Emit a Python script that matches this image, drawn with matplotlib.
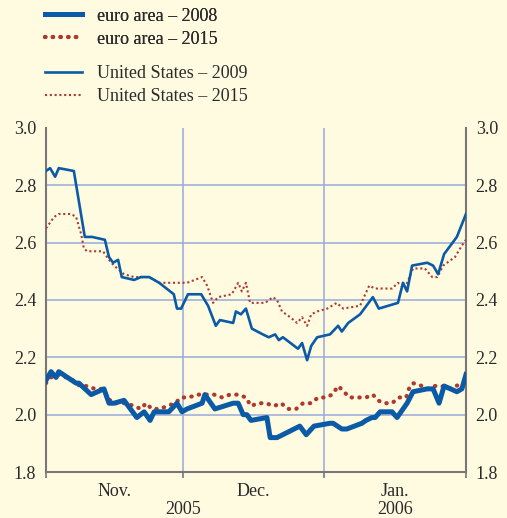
import numpy as np
import matplotlib.pyplot as plt
from matplotlib.lines import Line2D
import matplotlib.transforms as mtransforms

# x = days since 1 Nov 2005
us09_x = [0, 0.9, 2.0, 2.8, 6.1, 8.5, 10.1, 12.9, 13.8, 14.7, 15.8, 16.6, 19.3, 20.8, 22.6, 24.8,
          27.2, 28.0, 28.7, 29.6, 31.1, 34.0, 35.5, 37.2, 38.1, 41.0, 41.6, 42.7, 43.8, 45.1, 47.5,
          48.8, 50.2, 51.0, 51.9, 55.2, 56.1, 57.2, 58.1, 59.4, 62.2, 64.0, 64.8, 66.2, 68.8, 71.6,
          72.9, 77.1, 78.2, 79.1, 80.2, 83.5, 84.8, 85.9, 87.2, 90.0, 92.0]
us09_y = [2.85, 2.86, 2.83, 2.86, 2.85, 2.62, 2.62, 2.61, 2.55, 2.53, 2.54, 2.48, 2.47, 2.48, 2.48, 2.46,
          2.43, 2.42, 2.37, 2.37, 2.42, 2.42, 2.38, 2.31, 2.33, 2.32, 2.36, 2.35, 2.37, 2.30, 2.28,
          2.27, 2.28, 2.26, 2.27, 2.23, 2.25, 2.19, 2.24, 2.27, 2.28, 2.31, 2.29, 2.32, 2.35, 2.41,
          2.37, 2.39, 2.46, 2.43, 2.52, 2.53, 2.52, 2.49, 2.56, 2.62, 2.70]

us15_x = [0, 1.8, 2.8, 5.5, 6.6, 7.7, 8.3, 9.0, 12.5, 13.8, 14.9, 17.1, 19.3, 21.0, 22.6, 24.8, 26.3,
          29.6, 30.9, 34.2, 35.3, 36.6, 37.7, 40.7, 42.1, 42.9, 43.8, 44.7, 48.0, 49.7, 50.6, 51.7,
          53.5, 55.0, 56.1, 57.2, 58.1, 59.4, 61.6, 63.7, 65.1, 68.8, 70.8, 72.1, 75.8, 77.1, 78.6,
          80.4, 83.0, 84.6, 85.7, 87.0, 89.6, 91.1, 92.0]
us15_y = [2.65, 2.69, 2.70, 2.70, 2.69, 2.63, 2.58, 2.57, 2.57, 2.54, 2.52, 2.49, 2.48, 2.48, 2.48, 2.46, 2.46,
          2.46, 2.46, 2.48, 2.45, 2.39, 2.41, 2.42, 2.46, 2.43, 2.46, 2.39, 2.39, 2.41, 2.40, 2.36,
          2.34, 2.32, 2.34, 2.31, 2.35, 2.36, 2.37, 2.39, 2.37, 2.38, 2.45, 2.44, 2.44, 2.46, 2.44,
          2.51, 2.51, 2.48, 2.48, 2.52, 2.55, 2.59, 2.61]

ea08_x = [0, 1.1, 2.2, 2.8, 6.6, 7.2, 9.9, 12.7, 13.8, 14.9, 17.1, 19.9, 21.5, 22.8, 23.7, 26.9, 28.7,
          29.8, 30.9, 34.2, 34.8, 37.0, 41.0, 42.1, 43.2, 44.0, 44.9, 48.4, 49.1, 50.6, 55.6, 57.0,
          58.7, 62.2, 62.9, 64.8, 65.9, 69.2, 70.1, 71.4, 72.1, 73.2, 75.8, 76.9, 79.1, 80.4, 83.5,
          84.8, 86.1, 87.2, 90.0, 91.1, 92.0]
ea08_y = [2.12, 2.15, 2.13, 2.15, 2.11, 2.11, 2.07, 2.09, 2.04, 2.04, 2.05, 1.99, 2.01, 1.98, 2.01, 2.01, 2.04,
          2.01, 2.02, 2.04, 2.07, 2.02, 2.04, 2.04, 2.00, 2.00, 1.98, 1.99, 1.92, 1.92, 1.96, 1.93,
          1.96, 1.97, 1.97, 1.95, 1.95, 1.97, 1.98, 1.99, 1.99, 2.01, 2.01, 1.99, 2.04, 2.08, 2.09,
          2.09, 2.04, 2.10, 2.08, 2.09, 2.14]

ea15_x = [0, 1.1, 2.4, 4.4, 5.9, 7.4, 9.0, 10.7, 12.5, 13.6, 14.5, 15.6, 17.5, 19.3, 20.8, 21.9, 23.2,
          25.0, 26.5, 28.3, 29.6, 31.3, 33.1, 35.0, 36.8, 38.6, 40.3, 42.1, 43.8, 44.9, 46.4, 48.2,
          49.9, 51.5, 53.0, 54.8, 56.3, 58.1, 59.6, 61.3, 62.7, 64.0, 65.3, 66.4, 68.3, 70.1, 71.6,
          72.7, 74.0, 75.8, 77.3, 78.9, 79.5, 80.4, 82.4, 83.7, 85.0, 86.7, 88.1, 89.8, 91.4, 92.0]
ea15_y = [2.11, 2.13, 2.14, 2.13, 2.12, 2.10, 2.10, 2.09, 2.09, 2.06, 2.04, 2.04, 2.04, 2.03, 2.02, 2.04, 2.02,
          2.02, 2.03, 2.04, 2.06, 2.06, 2.07, 2.07, 2.07, 2.06, 2.07, 2.07, 2.06, 2.03, 2.04, 2.04,
          2.03, 2.04, 2.02, 2.02, 2.04, 2.04, 2.06, 2.06, 2.07, 2.10, 2.08, 2.06, 2.06, 2.06, 2.07,
          2.05, 2.04, 2.04, 2.06, 2.06, 2.09, 2.11, 2.10, 2.09, 2.10, 2.10, 2.09, 2.10, 2.11, 2.12]

month_edges = [0, 30, 61, 92]
month_labels = ["Nov.", "Dec.", "Jan."]
year_labels = [(30, "2005"), (76.5, "2006")]
yticks = [1.8, 2.0, 2.2, 2.4, 2.6, 2.8, 3.0]

bg = "#fefbe1"
blue = "#0a5aa6"
red = "#b0392f"
grid_c = "#97abd8"
txt_c = "#2a2a2a"

plt.rcParams["font.family"] = ["Liberation Serif", "DejaVu Serif"]

fig = plt.figure(figsize=(5.07, 5.18), dpi=100, facecolor=bg)
ax = fig.add_axes([0.0907, 0.0888, 0.8284, 0.6641], facecolor=bg)

for v in [2.0, 2.2, 2.4, 2.6, 2.8]:
    ax.axhline(v, color=grid_c, lw=1.1, zorder=1)
for m in month_edges[1:-1]:
    ax.axvline(m, color=grid_c, lw=1.1, zorder=1)

dots_big = dict(color=red, lw=3.0, dashes=(0.1, 1.75), dash_capstyle="round")
dots_small = dict(color=red, lw=1.5, dashes=(1, 1.3))

ax.plot(us15_x, us15_y, zorder=3, **dots_small)
ax.plot(us09_x, us09_y, color=blue, lw=1.9, zorder=4)
ax.plot(ea15_x, ea15_y, zorder=3, **dots_big)
ax.plot(ea08_x, ea08_y, color=blue, lw=3.6, zorder=4)

ax.set_xlim(0, 92)
ax.set_ylim(1.8, 3.0)

ax.spines["top"].set_visible(False)
for s in ["left", "right", "bottom"]:
    ax.spines[s].set_color("#777777")
    ax.spines[s].set_linewidth(1.5)

ax.set_yticks(yticks)
ax.set_yticklabels(["%.1f" % v for v in yticks])
ax.tick_params(axis="y", length=0, labelsize=13, colors=txt_c, pad=7,
               left=True, right=True, labelleft=True, labelright=True)

ax.set_xticks(month_edges)
ax.set_xticklabels([])
ax.set_xticks([(month_edges[i] + month_edges[i + 1]) / 2 for i in range(3)], minor=True)
ax.set_xticklabels(month_labels, minor=True)
ax.tick_params(axis="x", which="major", length=4, color="#777777", width=1.2)
ax.tick_params(axis="x", which="minor", length=0, labelsize=13, colors=txt_c, pad=8)

trans = mtransforms.blended_transform_factory(ax.transData, fig.transFigure)
for x, t in year_labels:
    fig.text(x, 0.0, t, transform=trans, ha="center", va="bottom", fontsize=13, color=txt_c)

h1 = [Line2D([], [], color=blue, lw=3.6), Line2D([], [], **dots_big)]
h2 = [Line2D([], [], color=blue, lw=1.9), Line2D([], [], **dots_small)]
leg_kw = dict(loc="upper left", frameon=False, fontsize=13, handlelength=2.05,
              handletextpad=0.8, labelspacing=0.32, borderpad=0, borderaxespad=0,
              labelcolor=txt_c)
leg1 = fig.legend(h1, ["euro area \u2013 2008", "euro area \u2013 2015"],
                  bbox_to_anchor=(0.089, 0.985), **leg_kw)
fig.add_artist(leg1)
fig.legend(h2, ["United States \u2013 2009", "United States \u2013 2015"],
           bbox_to_anchor=(0.089, 0.874), **leg_kw)

fig.savefig("out.png", dpi=100, facecolor=bg)
